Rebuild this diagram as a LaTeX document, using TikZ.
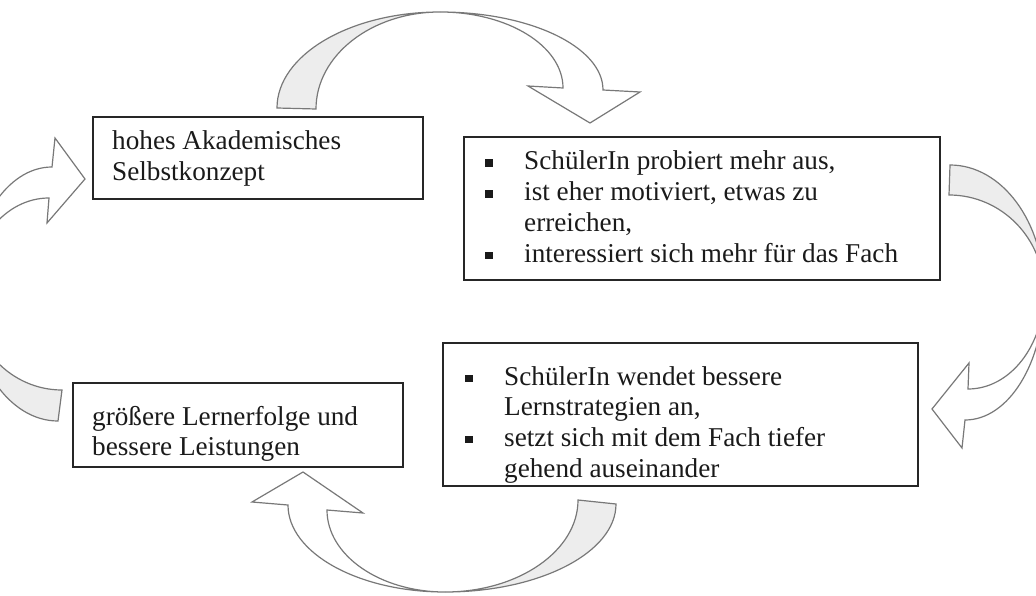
\documentclass[tikz,border=0pt]{standalone}
\usepackage{fontspec}
\setmainfont{Liberation Serif}
\definecolor{ink}{HTML}{1A1A1A}
\definecolor{frame}{HTML}{262626}
\definecolor{arrowline}{HTML}{787878}
\definecolor{backside}{HTML}{EDEDED}
% bullet with its fixed indent, and the matching indent for continued lines
\newcommand{\bul}{\makebox[38.75pt][l]{\rule[3pt]{7.5pt}{7.5pt}}}
\newcommand{\nobul}{\hspace*{38.75pt}}
\begin{document}
\begin{tikzpicture}[x=1pt,y=-1pt,
  box/.style={draw=frame, line width=2pt, rectangle, inner sep=0pt},
  txt/.style={text=ink, inner sep=0pt, anchor=base west,
              font=\fontsize{27.2}{30.7}\selectfont},
  arrowface/.style={draw=arrowline, line width=1.2pt, line join=miter, fill=white},
  arrowback/.style={draw=arrowline, line width=1.2pt, line join=miter, fill=backside}]
\useasboundingbox (0,0) rectangle (1036,596);

\begin{scope}
\clip (0,0) rectangle (1036,596);
% upper arrow: box 1 -> box 2
\path[arrowback] (277,108) .. controls (277,55) and (350,12) .. (440,12)
  .. controls (371.5,12) and (316,55.4) .. (316,109) -- cycle;
\path[arrowface] (440,12) .. controls (530,12) and (603,46.9) .. (603,90)
  -- (640,92) -- (590,123) -- (528,86) -- (563,88)
  .. controls (563,46) and (508,12) .. (440,12) -- cycle;
% right arrow: box 2 -> box 3
\path[arrowback] (950,165) .. controls (1001.9,165) and (1044,221.9) .. (1044,292)
  .. controls (1044,238.4) and (1001.5,195) .. (949,195) -- cycle;
\path[arrowface] (1044,292) .. controls (1044,362.7) and (1008.6,420) .. (965,420)
  -- (962,448) -- (932,409) -- (969,363) -- (968,389)
  .. controls (1010,389) and (1044,345.6) .. (1044,292) -- cycle;
% lower arrow: box 3 -> box 4
\path[arrowback] (616,504) .. controls (616,552.6) and (539.4,592) .. (445,592)
  .. controls (518.5,592) and (578,550.8) .. (578,500) -- cycle;
\path[arrowface] (445,592) .. controls (358.3,592) and (288,553) .. (288,505)
  -- (252,502) -- (303,472) -- (363,513) -- (327,510)
  .. controls (327,555.3) and (379.8,592) .. (445,592) -- cycle;
% left arrow: box 4 -> box 1
\path[arrowback] (58,421) .. controls (9.4,421) and (-30,364.1) .. (-30,294)
  .. controls (-30,347) and (11.2,390) .. (62,390) -- cycle;
\path[arrowface] (-30,294) .. controls (-30,223.9) and (6.7,167) .. (52,167)
  -- (55,138) -- (85,179) -- (47,223) -- (49,198)
  .. controls (5.4,198) and (-30,241) .. (-30,294) -- cycle;
\end{scope}

% boxes
\node[box, minimum width=330pt, minimum height=82pt]  (b1) at (258,158)   {};
\node[box, minimum width=476pt, minimum height=143pt] (b2) at (702,208.5) {};
\node[box, minimum width=475pt, minimum height=143pt] (b3) at (680.5,414.5) {};
\node[box, minimum width=330pt, minimum height=84pt]  (b4) at (238,425)   {};

% box texts
\node[txt] (t1) at (112,150) {\begin{tabular}[t]{@{}l@{}}hohes Akademisches\\Selbstkonzept\end{tabular}};
\node[txt] (t2) at (485.25,170) {\begin{tabular}[t]{@{}l@{}}\bul SchülerIn probiert mehr aus,\\
  \bul ist eher motiviert, etwas zu\\
  \nobul erreichen,\\
  \bul interessiert sich mehr für das Fach\end{tabular}};
\node[txt] (t3) at (465.25,385) {\begin{tabular}[t]{@{}l@{}}\bul SchülerIn wendet bessere\\
  \nobul Lernstrategien an,\\
  \bul setzt sich mit dem Fach tiefer\\
  \nobul gehend auseinander\end{tabular}};
\node[txt] (t4) at (92,425) {\begin{tabular}[t]{@{}l@{}}größere Lernerfolge und\\bessere Leistungen\end{tabular}};
\end{tikzpicture}
\end{document}
